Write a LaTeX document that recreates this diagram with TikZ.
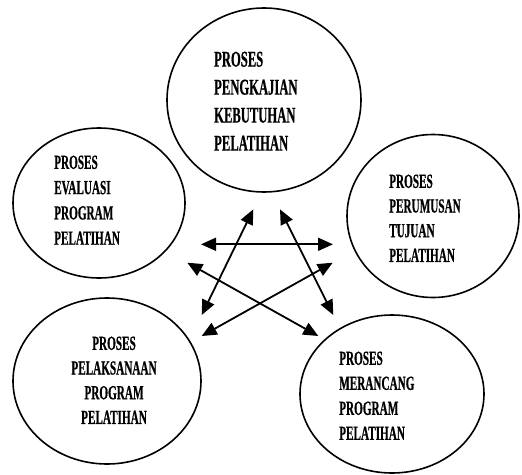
\documentclass[tikz,border=0pt]{standalone}
\usepackage{fontspec}
\usetikzlibrary{shapes.geometric,arrows.meta}
\newfontfamily\condfont{Liberation Serif}[UprightFont=* Bold, FakeStretch=0.56, FakeBold=0.6]
\begin{document}
\begin{tikzpicture}[x=1pt,y=-1pt,
  bubble/.style={draw, ellipse, line width=1.6pt, inner sep=0pt},
  lbl/.style={inner sep=0pt, anchor=north west, align=left},
  txtA/.style={font=\condfont\fontsize{20}{25}\selectfont},
  txtB/.style={font=\condfont\fontsize{22.5}{28}\selectfont},
  dbl/.style={{Triangle[length=15pt,width=13pt]}-{Triangle[length=15pt,width=13pt]}, line width=1.8pt}]
\useasboundingbox (0,0) rectangle (522,474);
% ellipses
\node[bubble, minimum width=194pt, minimum height=184pt] (kaji) at (264,100) {};
\node[bubble, minimum width=172pt, minimum height=150pt] (eval) at (99,203) {};
\node[bubble, minimum width=172pt, minimum height=163pt] (rumus) at (433,216) {};
\node[bubble, minimum width=188pt, minimum height=166pt] (laksana) at (107,381) {};
\node[bubble, minimum width=184pt, minimum height=158pt] (rancang) at (392,394) {};
% texts
\node[lbl, txtB] (tkaji) at (214,51.5) {PROSES\\PENGKAJIAN\\KEBUTUHAN\\PELATIHAN};
\node[lbl, font=\condfont\fontsize{20}{25.3}\selectfont] (teval) at (54,155.4) {PROSES\\EVALUASI\\PROGRAM\\PELATIHAN};
\node[lbl, font=\condfont\fontsize{20}{24.7}\selectfont] (trumus) at (389,174.4) {PROSES\\PERUMUSAN\\TUJUAN\\PELATIHAN};
\node[inner sep=0pt, anchor=north, align=center, font=\condfont\fontsize{20}{24.7}\selectfont] (tlaksana) at (114,336.4) {PROSES\\PELAKSANAAN\\PROGRAM\\PELATIHAN};
\node[lbl, txtA] (trancang) at (339,351.4) {PROSES\\MERANCANG\\PROGRAM\\PELATIHAN};
% arrow end points
\coordinate (h1) at (201,244.3);
\coordinate (h2) at (333,244.3);
\coordinate (a1) at (201.7,315);
\coordinate (a2) at (253.3,209.3);
\coordinate (b1) at (280,209.3);
\coordinate (b2) at (333.3,315);
\coordinate (c1) at (187.3,262.7);
\coordinate (c2) at (318.3,336);
\coordinate (d1) at (332.7,262.7);
\coordinate (d2) at (201.7,336);
\draw[dbl] (h1) -- (h2);
\draw[dbl] (a1) -- (a2);
\draw[dbl] (b1) -- (b2);
\draw[dbl] (c1) -- (c2);
\draw[dbl] (d1) -- (d2);
\end{tikzpicture}
\end{document}
